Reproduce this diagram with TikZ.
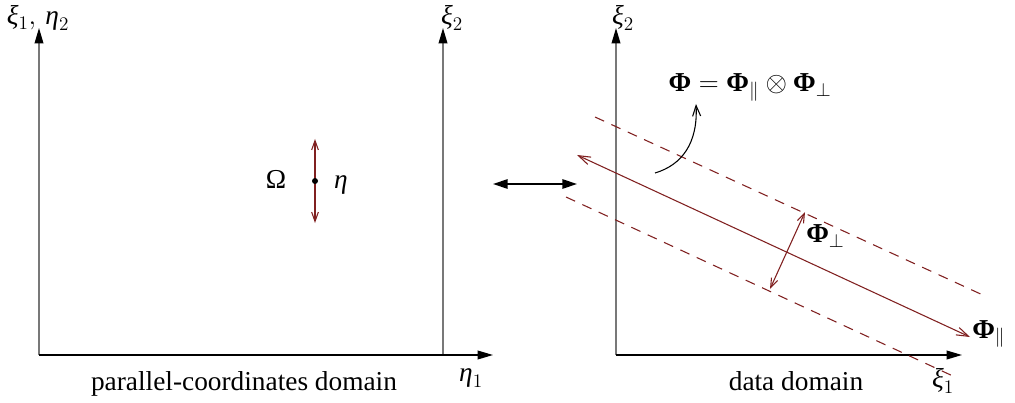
\documentclass[tikz,border=0pt]{standalone}
\usepackage{fontspec}
\setmainfont{Liberation Serif}
\usetikzlibrary{arrows.meta}
\definecolor{dred}{RGB}{128,32,32}
\definecolor{axgray}{RGB}{120,120,120}
\newcommand{\myxi}{\mbox{\itshape ξ}}
\newcommand{\myeta}{\mbox{\itshape η}}
\newcommand{\bphi}{\mbox{\bfseries Φ}}
\begin{document}
\begin{tikzpicture}[x=0.75pt,y=-0.75pt,
  lbl/.style={inner sep=0pt, font=\fontsize{20.5}{24}\selectfont},
  axisv/.style={draw=axgray, line width=1.1pt, -{Triangle[length=11.5pt,width=6.5pt,color=black]}},
  axish/.style={draw=black, line width=1.1pt, -{Triangle[length=11.5pt,width=6.5pt,color=black]}},
  link/.style={draw=black, line width=1.5pt, {Triangle[length=11pt,width=7pt]}-{Triangle[length=11pt,width=7pt]}},
  redarrow/.style={draw=dred, line width=0.8pt, {Straight Barb[length=9pt,width=6pt]}-{Straight Barb[length=9pt,width=6pt]}},
  redsmall/.style={draw=dred, line width=0.8pt, {Straight Barb[length=7pt,width=5pt]}-{Straight Barb[length=7pt,width=5pt]}},
  reddash/.style={draw=dred, line width=0.8pt, dash pattern=on 7.5pt off 6pt},
  curvearrow/.style={draw=black, line width=0.8pt, -{Straight Barb[length=8pt,width=6pt]}}
]
\useasboundingbox (0,0) rectangle (1015,403);
% ---- left panel ----
\coordinate (O1) at (39,355);
\coordinate (Y1) at (39,28);
\coordinate (X1) at (493,355);
\coordinate (B2) at (443,355);
\coordinate (Y2) at (443,28);
\draw[axisv] (O1) -- (Y1);
\draw[axisv] (B2) -- (Y2);
\draw[axish] (O1) -- (X1);
\node[lbl] (lxi1) at (38,18) {$\myxi_1,\, \myeta_2$};
\node[lbl] (lxi2) at (452,18) {$\myxi_2$};
\node[lbl] (leta1) at (471,378) {$\myeta_1$};
\node[lbl, anchor=base] (pcd) at (244,390) {parallel-coordinates domain};
\coordinate (eTop) at (315,139);
\coordinate (eBot) at (315,223);
\draw[redsmall] (eTop) -- (eBot);
\fill[black] (315,181) circle (3) coordinate (dot);
\node[lbl, anchor=base] (Om) at (276,189) {Ω};
\node[lbl, anchor=base] (eta) at (341,189) {\textit{η}};
% ---- link ----
\coordinate (L1) at (493,184);
\coordinate (L2) at (577,184);
\draw[link] (L1) -- (L2);
% ---- right panel ----
\coordinate (O2) at (616,355);
\coordinate (Y3) at (616,28);
\coordinate (X3) at (962,355);
\draw[axisv] (O2) -- (Y3);
\draw[axish] (O2) -- (X3);
\node[lbl] (rxi2) at (623,18) {$\myxi_2$};
\node[lbl] (rxi1) at (943,381) {$\myxi_1$};
\node[lbl, anchor=base] (dd) at (796,390) {data domain};
\coordinate (U1) at (595,117);
\coordinate (U2) at (985,296);
\coordinate (D1) at (566,197);
\coordinate (D2) at (955,377);
\draw[reddash] (U1) -- (U2);
\draw[reddash] (D1) -- (D2);
\coordinate (M1) at (577,155);
\coordinate (M2) at (970,337);
\draw[redarrow] (M1) -- (M2);
\coordinate (P1) at (805,212);
\coordinate (P2) at (770,289);
\draw[redsmall] (P1) -- (P2);
\node[lbl, anchor=base west] (phiperp) at (806,243) {$\bphi_{\perp}$};
\node[lbl, anchor=base west] (phipar) at (972,338) {$\bphi_{\parallel}$};
\node[lbl, anchor=base] (formula) at (750,92) {$\bphi = \bphi_{\parallel} \otimes \bphi_{\perp}$};
\coordinate (C1) at (655,173);
\coordinate (C2) at (696,104);
\draw[curvearrow] (C1) .. controls (682,165) and (698,143) .. (C2);
\end{tikzpicture}
\end{document}
